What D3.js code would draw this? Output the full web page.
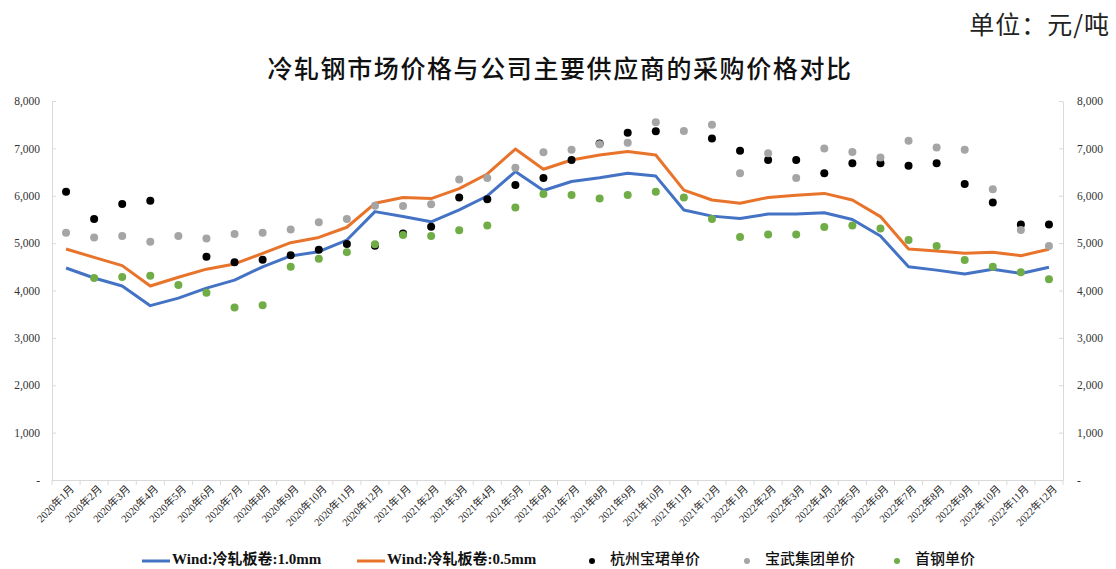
<!DOCTYPE html>
<html><head><meta charset="utf-8">
<script src="https://cdn.jsdelivr.net/npm/d3@7"></script>
<style>
body{margin:0;background:#fff;}
svg{display:block;}
</style></head>
<body>
<svg id="chart" width="1116" height="569"></svg>
<script>
const months = [
"2020年1月","2020年2月","2020年3月","2020年4月","2020年5月","2020年6月","2020年7月","2020年8月","2020年9月","2020年10月","2020年11月","2020年12月",
"2021年1月","2021年2月","2021年3月","2021年4月","2021年5月","2021年6月","2021年7月","2021年8月","2021年9月","2021年10月","2021年11月","2021年12月",
"2022年1月","2022年2月","2022年3月","2022年4月","2022年5月","2022年6月","2022年7月","2022年8月","2022年9月","2022年10月","2022年11月","2022年12月"];
const wind10 = [4475,4264,4095,3680,3840,4050,4220,4500,4730,4820,5065,5665,5560,5450,5700,5995,6510,6110,6300,6380,6475,6415,5700,5570,5520,5615,5615,5640,5500,5150,4500,4430,4350,4450,4360,4490];
const wind05 = [4875,4700,4525,4095,4280,4450,4560,4785,5010,5120,5335,5840,5965,5940,6150,6460,6985,6560,6755,6860,6935,6860,6120,5910,5840,5965,6010,6050,5910,5560,4875,4835,4785,4805,4735,4870];
const hzbj = [6085,5510,5825,5895,null,4715,4595,4650,4745,4860,4980,4945,5205,5345,5965,5925,6225,6375,6755,7105,7330,7360,null,7210,6950,6755,6755,6475,6685,6685,6635,6685,6250,5860,5395,5395];
const baowu = [5220,5120,5150,5030,5150,5100,5195,5220,5290,5440,5510,5790,5785,5820,6345,6375,6590,6920,6970,7085,7120,7550,7365,7500,6475,6895,6375,6995,6925,6810,7160,7020,6970,6135,5275,4940];
const shougang = [null,4265,4285,4310,4115,3955,3640,3690,4500,4670,4810,4975,5170,5150,5270,5370,5750,6035,6015,5940,6015,6085,5965,5510,5130,5180,5180,5340,5370,5310,5065,4940,4645,4500,4385,4235];
const yTicks = [0,1000,2000,3000,4000,5000,6000,7000,8000];
const titleText = "冷轧钢市场价格与公司主要供应商的采购价格对比";
const unitText = "单位：元/吨";
const lineSeries = [
  {name:"Wind:冷轧板卷:1.0mm", values:wind10, color:"#4472C4"},
  {name:"Wind:冷轧板卷:0.5mm", values:wind05, color:"#E8742C"}
];
const dotSeries = [
  {name:"杭州宝珺单价", values:hzbj, color:"#000000"},
  {name:"宝武集团单价", values:baowu, color:"#A5A5A5"},
  {name:"首钢单价", values:shougang, color:"#70AD47"}
];

const svg = d3.select("#chart");
const L = 52, R = 1063, T = 101, B = 480;
const x = d3.scaleBand().domain(months).range([L, R]);
const y = d3.scaleLinear().domain([0, 8000]).range([B, T]);
const cx = m => x(m) + x.bandwidth()/2;
const serif = "'Liberation Serif','Times New Roman','Noto Sans CJK SC',serif";
const fmt = v => v === 0 ? "-" : d3.format(",")(v);

// title & unit
svg.append("text").attr("x", 560).attr("y", 78).attr("text-anchor","middle")
  .attr("font-family","'Noto Sans CJK SC',sans-serif").attr("font-size",25).attr("font-weight",500)
  .attr("letter-spacing","1.6px").attr("fill","#111").text(titleText);
svg.append("text").attr("x", 1110).attr("y", 34).attr("text-anchor","end")
  .attr("font-family","'Noto Sans CJK SC',sans-serif").attr("font-size",25).attr("letter-spacing","1px").attr("fill","#222").text(unitText);

// axes
const axisColor = "#D9D9D9";
const leftAxis = svg.append("g").attr("transform",`translate(${L},0)`)
  .call(d3.axisLeft(y).tickValues(yTicks).tickFormat(fmt).tickSizeInner(-4).tickSizeOuter(0).tickPadding(12));
const rightAxis = svg.append("g").attr("transform",`translate(${R},0)`)
  .call(d3.axisRight(y).tickValues(yTicks).tickFormat(fmt).tickSizeInner(-4).tickSizeOuter(0).tickPadding(14));
[leftAxis, rightAxis].forEach(g => {
  g.select(".domain").attr("stroke", axisColor);
  g.selectAll(".tick line").attr("stroke", axisColor);
  g.selectAll(".tick text").attr("font-family", serif).attr("font-size", 11.5).attr("fill","#333");
});

const xAxis = svg.append("g").attr("transform",`translate(0,${B})`)
  .call(d3.axisBottom(x).tickSize(0).tickFormat(""));
xAxis.select(".domain").attr("stroke", axisColor);
// boundary tick marks
svg.append("g").selectAll("line").data(d3.range(months.length+1)).join("line")
  .attr("x1", i => L + i*x.step()).attr("x2", i => L + i*x.step())
  .attr("y1", B).attr("y2", B+5).attr("stroke", axisColor);
// x labels
svg.append("g").selectAll("text").data(months).join("text")
  .attr("transform", d => `translate(${cx(d)+6},${B+7}) rotate(-45)`)
  .attr("text-anchor","end").attr("dy","0.35em")
  .attr("font-family", serif).attr("font-size", 10.5).attr("fill","#222").text(d => d);

// lines
const line = d3.line().x((d,i) => cx(months[i])).y(d => y(d));
lineSeries.forEach(s => {
  svg.append("path").datum(s.values).attr("d", line).attr("fill","none")
    .attr("stroke", s.color).attr("stroke-width", 3).attr("stroke-linejoin","round");
});
// dots
dotSeries.forEach(s => {
  svg.append("g").selectAll("circle")
    .data(s.values.map((v,i) => ({v, m: months[i]})).filter(d => d.v != null))
    .join("circle").attr("cx", d => cx(d.m)).attr("cy", d => y(d.v)).attr("r", 4).attr("fill", s.color);
});

// legend
const ly = 559;
const lg = svg.append("g");
const legendLines = [{s:lineSeries[0], x:142},{s:lineSeries[1], x:357}];
legendLines.forEach(o => {
  lg.append("line").attr("x1", o.x).attr("x2", o.x+28).attr("y1", ly+2).attr("y2", ly+2)
    .attr("stroke", o.s.color).attr("stroke-width", 3);
  lg.append("text").attr("x", o.x+30).attr("y", ly).attr("dy","0.35em")
    .attr("font-family", serif).attr("font-weight","bold").attr("font-size", 15).attr("fill","#111").text(o.s.name);
});
const legendDots = [{s:dotSeries[0], x:592},{s:dotSeries[1], x:747},{s:dotSeries[2], x:897}];
legendDots.forEach(o => {
  lg.append("circle").attr("cx", o.x).attr("cy", ly+2).attr("r", 3).attr("fill", o.s.color);
  lg.append("text").attr("x", o.x+18).attr("y", ly).attr("dy","0.35em")
    .attr("font-family","'Noto Sans CJK SC',sans-serif").attr("font-weight",500).attr("font-size", 15).attr("fill","#111").text(o.s.name);
});
</script>
</body></html>
